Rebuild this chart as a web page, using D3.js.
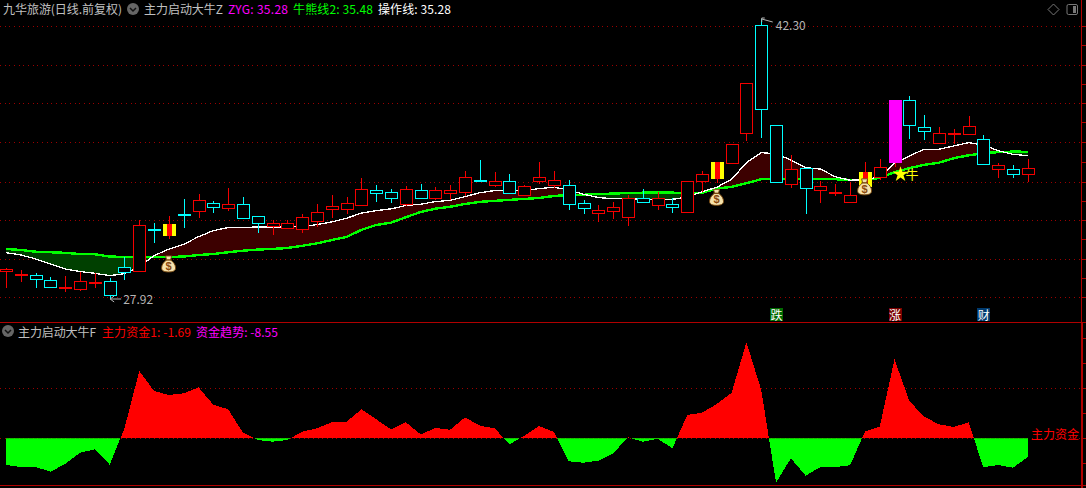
<!DOCTYPE html>
<html><head><meta charset="utf-8">
<script src="https://cdnjs.cloudflare.com/ajax/libs/d3/7.9.0/d3.min.js"></script>
<style>html,body{margin:0;padding:0;background:#000;overflow:hidden}svg{display:block}text{font-family:"Noto Sans CJK SC","Liberation Sans",sans-serif}</style>
</head><body><div id="c"></div>
<script>
const opens=[29.35,29.13,29.14,28.88,28.55,28.45,28.79,28.83,29.55,29.35,31.49,31.16,32.29,32.46,32.84,32.61,32.79,32.17,31.67,31.59,31.50,31.95,32.53,32.56,32.77,33.51,33.40,32.82,33.51,33.13,33.38,33.40,34.04,33.79,33.97,33.28,33.98,33.79,33.76,32.84,32.32,32.46,32.15,33.10,32.77,32.79,32.37,33.96,34.09,34.92,36.46,41.98,36.84,33.85,34.64,33.54,33.42,32.89,33.68,34.20,34.92,38.13,36.74,35.95,36.43,36.41,36.13,34.62,34.59,34.36];
const closes=[29.46,29.18,28.97,28.55,28.56,28.83,28.80,28.14,29.33,31.71,31.47,31.78,32.28,32.99,32.66,32.79,32.10,31.84,31.81,31.81,32.12,32.38,32.68,32.84,33.56,33.38,33.13,33.56,33.13,33.51,33.51,34.17,34.03,33.97,33.38,33.71,34.17,34.02,32.82,32.61,32.49,32.63,33.10,32.92,33.10,32.66,33.97,34.33,34.94,35.87,39.00,37.70,33.95,34.59,33.64,33.71,33.43,33.25,34.45,34.69,38.14,36.88,36.57,36.43,36.44,36.79,34.87,34.79,34.36,34.64];
const highs=[29.52,29.41,29.24,29.05,29.10,29.31,29.27,29.00,30.07,31.98,31.81,32.19,33.04,33.32,32.94,33.62,33.15,32.17,31.98,31.97,32.29,32.80,33.27,33.16,34.14,33.76,33.56,33.73,33.83,33.68,33.78,34.50,35.06,34.45,34.34,33.78,34.96,34.50,34.04,33.01,32.75,32.91,33.27,33.56,33.43,33.10,33.97,34.50,34.94,35.87,39.00,42.30,36.84,35.32,34.64,33.98,33.83,33.95,34.97,35.10,38.14,38.35,37.37,36.76,36.65,37.32,36.35,34.89,34.81,35.11];
const lows=[28.49,28.80,28.49,28.55,28.28,28.33,28.49,27.92,28.90,29.35,30.82,31.02,31.57,32.08,32.36,32.44,32.05,31.33,31.23,31.59,31.33,31.64,32.10,32.29,32.70,32.91,32.85,32.72,33.13,33.01,33.01,33.21,33.98,33.69,33.38,33.28,33.83,33.61,32.49,32.29,31.89,32.03,31.67,32.92,32.49,32.34,32.37,33.43,33.87,34.92,36.05,36.21,33.95,33.64,32.30,32.85,33.21,32.89,33.57,34.02,34.70,36.14,36.09,35.95,35.90,36.41,34.81,34.15,34.15,33.95];
const operLine=[30.30,30.18,29.98,29.72,29.46,29.33,29.24,29.12,29.22,29.58,30.15,30.48,30.73,31.12,31.43,31.59,31.59,31.62,31.62,31.62,31.64,31.74,31.88,32.07,32.33,32.46,32.55,32.72,32.79,32.92,32.99,33.18,33.38,33.49,33.49,33.49,33.59,33.66,33.52,33.30,33.13,33.07,33.07,33.04,33.04,33.04,33.15,33.43,33.66,34.07,34.92,35.44,35.37,35.06,34.67,34.59,34.20,34.02,34.04,34.20,34.89,35.27,35.61,35.61,35.78,35.95,35.83,35.54,35.35,35.28];
const bullLine=[30.49,30.44,30.35,30.32,30.29,30.23,30.22,30.10,30.08,30.08,30.08,30.08,30.10,30.18,30.23,30.32,30.40,30.46,30.49,30.54,30.65,30.78,30.95,31.11,31.47,31.72,31.84,32.12,32.39,32.56,32.66,32.80,32.91,32.96,33.01,33.06,33.11,33.21,33.27,33.27,33.32,33.33,33.37,33.38,33.38,33.38,33.37,33.38,33.59,33.68,33.87,34.07,34.09,34.09,34.09,34.09,34.07,34.04,34.04,34.14,34.43,34.64,34.81,34.92,35.15,35.30,35.41,35.46,35.49,35.48];
const fundTrend=[-12.21,-13.12,-13.12,-15.27,-11.75,-6.58,-5.03,-12.07,4.57,30.77,21.63,19.80,20.58,23.32,15.36,13.26,2.56,-0.78,-1.55,-0.78,3.02,4.57,7.32,7.59,13.26,8.69,4.12,7.32,1.83,4.71,3.93,9.60,5.76,4.57,-2.74,1.19,5.62,2.88,-10.52,-11.16,-10.24,-6.86,0.46,-1.55,-0.18,-4.57,10.65,11.71,15.68,20.85,43.90,22.09,-20.30,-9.14,-17.10,-13.12,-13.12,-12.35,3.02,5.30,36.12,17.06,9.88,6.40,5.17,7.32,-13.26,-12.21,-13.44,-8.55];
const gridPrices=[41.94,39.94,37.99,35.99,33.95,31.98,29.98,28.03];
const priceTicks=[41.94,40.94,39.94,38.97,37.99,36.99,35.99,34.97,33.95,32.97,31.98,30.98,29.98,29.0,28.03];
const fundGrid=[23,0];
const fundTicks=[46,34.5,23,11.5,0,-11.5];
const signalDays=[11,48,58];
const signalBagPrices=[29.72,33.14,33.68];
const magentaDays=[60];
const starDay=60, starPrice=34.32;
const maxMark={day:51,price:42.30,label:"42.30"};
const minMark={day:7,price:27.92,label:"27.92"};
const titleTexts=[
 {t:"九华旅游(日线.前复权)",x:3,y:14,w:119,c:"#c0c0c0"},
 {t:"主力启动大牛Z",x:144,y:14,w:79,c:"#c0c0c0"},
 {t:"ZYG: 35.28",x:228,y:14,w:60,c:"#ff00ff"},
 {t:"牛熊线2: 35.48",x:293,y:14,w:80,c:"#00ff00"},
 {t:"操作线: 35.28",x:378,y:14,w:73,c:"#ffffff"},
 {t:"主力启动大牛F",x:18,y:336.5,w:78,c:"#c0c0c0"},
 {t:"主力资金1: -1.69",x:102,y:336.5,w:89,c:"#ff0000"},
 {t:"资金趋势: -8.55",x:196,y:336.5,w:82,c:"#ff00ff"},
 {t:"主力资金",x:1031,y:438.5,w:48,c:"#ff0000"}];
const badges=[{t:"跌",day:52,c:"#006a00"},{t:"涨",day:60,c:"#7a0000"},{t:"财",day:66,c:"#003a6e"}];

const W=1086,H=488;
const svg=d3.select("#c").append("svg").attr("width",W).attr("height",H).style("background","#000");
const x=d3.scaleLinear().domain([0,69]).range([6.5,1028.3]);
const xl=i=>x(i)-.5;
const y=d3.scaleLinear().domain([27.92,42.30]).range([299,19]);
const yf=d3.scaleLinear().domain([-20.30,43.90]).range([482.7,342.3]);
const days=d3.range(opens.length);
const crisp=s=>s.attr("shape-rendering","crispEdges");
const RED="#f40000",CY="#00ffff",GRID="#9c0000",FR="#b00000";

// frame
const frame=crisp(svg.append("g").attr("stroke",FR).attr("fill","none"));
frame.append("line").attr("x1",0).attr("x2",W).attr("y1",322.5).attr("y2",322.5);
frame.append("line").attr("x1",0).attr("x2",W).attr("y1",485.5).attr("y2",485.5);
frame.append("line").attr("x1",1081.5).attr("x2",1081.5).attr("y1",0).attr("y2",322);
frame.append("line").attr("x1",1082).attr("x2",1082).attr("y1",322).attr("y2",488).attr("stroke-width",2);

// grids
crisp(svg.append("g").selectAll("line").data(gridPrices).join("line")
  .attr("x1",0).attr("x2",1080).attr("y1",d=>Math.round(y(d))+.5).attr("y2",d=>Math.round(y(d))+.5)
  .attr("stroke",GRID).attr("stroke-dasharray","1 3.67"));
crisp(svg.append("g").selectAll("line").data(fundGrid).join("line")
  .attr("x1",0).attr("x2",1080).attr("y1",d=>Math.round(yf(d))+.5).attr("y2",d=>Math.round(yf(d))+.5)
  .attr("stroke",GRID).attr("stroke-dasharray","1 3.67"));

// right axes (labels cropped away)
const ax1=svg.append("g").attr("transform","translate(1081.5,0)")
  .call(d3.axisRight(y).tickValues(priceTicks).tickSize(5).tickFormat(""));
const ax2=svg.append("g").attr("transform","translate(1082,0)")
  .call(d3.axisRight(yf).tickValues(fundTicks).tickSize(4).tickFormat(""));
[ax1,ax2].forEach(a=>{a.select(".domain").remove();crisp(a.selectAll("line").attr("stroke",FR));});

// band between lines
const defs=svg.append("defs");
defs.append("clipPath").attr("id","bullClip").append("path")
  .attr("d",d3.area().x(xl).y0(0).y1(i=>y(bullLine[i]))(days));
defs.append("clipPath").attr("id","bearClip").append("path")
  .attr("d",d3.area().x(xl).y0(H).y1(i=>y(bullLine[i]))(days));
const band=d3.area().x(xl).y0(i=>y(bullLine[i])).y1(i=>y(operLine[i]))(days);
crisp(svg.append("path").attr("d",band).attr("fill","#3c0000").attr("clip-path","url(#bullClip)"));
crisp(svg.append("path").attr("d",band).attr("fill","#004000").attr("clip-path","url(#bearClip)"));

// lines
const ln=a=>d3.line().x(xl).y(i=>y(a[i]))(days);
crisp(svg.append("path").attr("d",ln(bullLine)).attr("fill","none").attr("stroke","#00ff00").attr("stroke-width",2.4));
crisp(svg.append("path").attr("d",ln(operLine)).attr("fill","none").attr("stroke","#ffffff").attr("stroke-width",1.3));

// candles
const halfW=6;
const g=crisp(svg.append("g"));
days.forEach(i=>{
  const cx=Math.floor(x(i))+.5, up=closes[i]>=opens[i];
  const col=up?RED:CY;
  const top=Math.round(y(Math.max(opens[i],closes[i]))), bot=Math.round(y(Math.min(opens[i],closes[i])));
  const mag=magentaDays.includes(i), sig=signalDays.includes(i);
  g.append("line").attr("x1",cx).attr("x2",cx).attr("y1",y(highs[i])).attr("y2",y(lows[i]))
    .attr("stroke",mag?RED:col);
  if(mag){
    g.append("rect").attr("x",cx-halfW-.5).attr("y",top).attr("width",2*halfW+1).attr("height",bot-top).attr("fill","#ff00ff");
  }else if(sig){
    g.append("rect").attr("x",cx-halfW-.5).attr("y",top).attr("width",2*halfW+1).attr("height",bot-top).attr("fill","#ffff00");
    g.append("rect").attr("x",cx-2.5).attr("y",top).attr("width",5).attr("height",bot-top).attr("fill","#ff0000");
  }else{
    g.append("rect").attr("x",cx-halfW).attr("y",top+.5).attr("width",2*halfW).attr("height",Math.max(bot-top,1))
      .attr("fill","#000").attr("stroke",col);
  }
});

// money bags
signalDays.forEach((d,k)=>{
  const b=svg.append("g").attr("transform",`translate(${x(d)-.8},${y(signalBagPrices[k])})`);
  b.append("path").attr("d","M-3,-8 L3,-8 L2,-4 C5,-2 7,1 7,4 C7,7 4,8 0,8 C-4,8 -7,7 -7,4 C-7,1 -5,-2 -2,-4 Z")
    .attr("fill","#f6e2ac").attr("stroke","#7a4a10").attr("stroke-width",1);
  b.append("line").attr("x1",-3).attr("x2",3).attr("y1",-4).attr("y2",-4).attr("stroke","#7a4a10").attr("stroke-width",1.4);
  b.append("text").text("$").attr("x",0).attr("y",6).attr("text-anchor","middle").attr("font-size",11).attr("font-weight",700)
    .attr("fill","#8a4a10").style("font-family","Liberation Sans");
});

// star + bull text
svg.append("path").attr("d",d3.symbol(d3.symbolStar,75)())
  .attr("transform",`translate(${x(starDay)+5.5},${y(starPrice)})`).attr("fill","#ffff00");
svg.append("text").text("牛").attr("x",x(starDay)+17).attr("y",y(starPrice)+5)
  .attr("text-anchor","middle").attr("font-size",13).attr("fill","#ffff00");

// funds area
defs.append("clipPath").attr("id","posClip").append("rect").attr("x",0).attr("y",0).attr("width",W).attr("height",yf(0));
defs.append("clipPath").attr("id","negClip").append("rect").attr("x",0).attr("y",yf(0)).attr("width",W).attr("height",H);
const fa=d3.area().x(xl).y0(yf(0)).y1(i=>yf(fundTrend[i]))(days);
crisp(svg.append("path").attr("d",fa).attr("fill","#ff0000").attr("clip-path","url(#posClip)"));
crisp(svg.append("path").attr("d",fa).attr("fill","#00ff00").attr("clip-path","url(#negClip)"));

// extreme marks
const mk=svg.append("g").attr("stroke","#b4b4b4").attr("fill","none");
const hx=x(maxMark.day),hy=y(maxMark.price)+3;
mk.append("path").attr("d",`M${hx},${hy} L${hx},${hy-4} L${hx+3},${hy-4} M${hx},${hy-3} L${hx+11},${hy}`);
const lx=x(minMark.day),ly=y(minMark.price);
mk.append("path").attr("d",`M${lx},${ly} L${lx+11},${ly} M${lx},${ly} L${lx+4},${ly-3} M${lx},${ly} L${lx+4},${ly+3}`);
const numTxt=(m,px,py)=>svg.append("text").text(m.label).attr("x",px).attr("y",py)
  .attr("font-size",12).attr("fill","#b4b4b4").attr("textLength",30).attr("lengthAdjust","spacing");
numTxt(maxMark,hx+14,y(maxMark.price)+11);
numTxt(minMark,lx+13,ly+5);

// chevron buttons
[[133,9],[8,331]].forEach(([cx,cy])=>{
  svg.append("circle").attr("cx",cx).attr("cy",cy).attr("r",6).attr("fill","#666");
  svg.append("path").attr("d",`M${cx-3},${cy-1} L${cx},${cy+2} L${cx+3},${cy-1}`).attr("fill","none").attr("stroke","#111").attr("stroke-width",1.5);
});

// texts
svg.append("g").selectAll("text").data(titleTexts).join("text")
  .attr("x",d=>d.x).attr("y",d=>d.y).attr("fill",d=>d.c).attr("font-size",12)
  .attr("textLength",d=>d.w).attr("lengthAdjust","spacing").text(d=>d.t);

// badges
const bg=svg.append("g").selectAll("g").data(badges).join("g")
  .attr("transform",d=>`translate(${x(d.day)},314.5)`);
crisp(bg.append("rect").attr("x",-6.5).attr("y",-6.5).attr("width",13).attr("height",13).attr("fill",d=>d.c));
bg.append("text").attr("text-anchor","middle").attr("y",5).attr("font-size",12).attr("fill","#fff").text(d=>d.t);

// top-right icons
svg.append("path").attr("d","M1053.5,4 L1059,9.5 L1053.5,15 L1048,9.5 Z").attr("fill","none").attr("stroke","#777");
svg.append("rect").attr("x",1067).attr("y",4.5).attr("width",10.5).attr("height",10).attr("rx",1.5).attr("fill","none").attr("stroke","#777");
svg.append("rect").attr("x",1073).attr("y",6).attr("width",3).attr("height",7).attr("fill","#777");
</script></body></html>
